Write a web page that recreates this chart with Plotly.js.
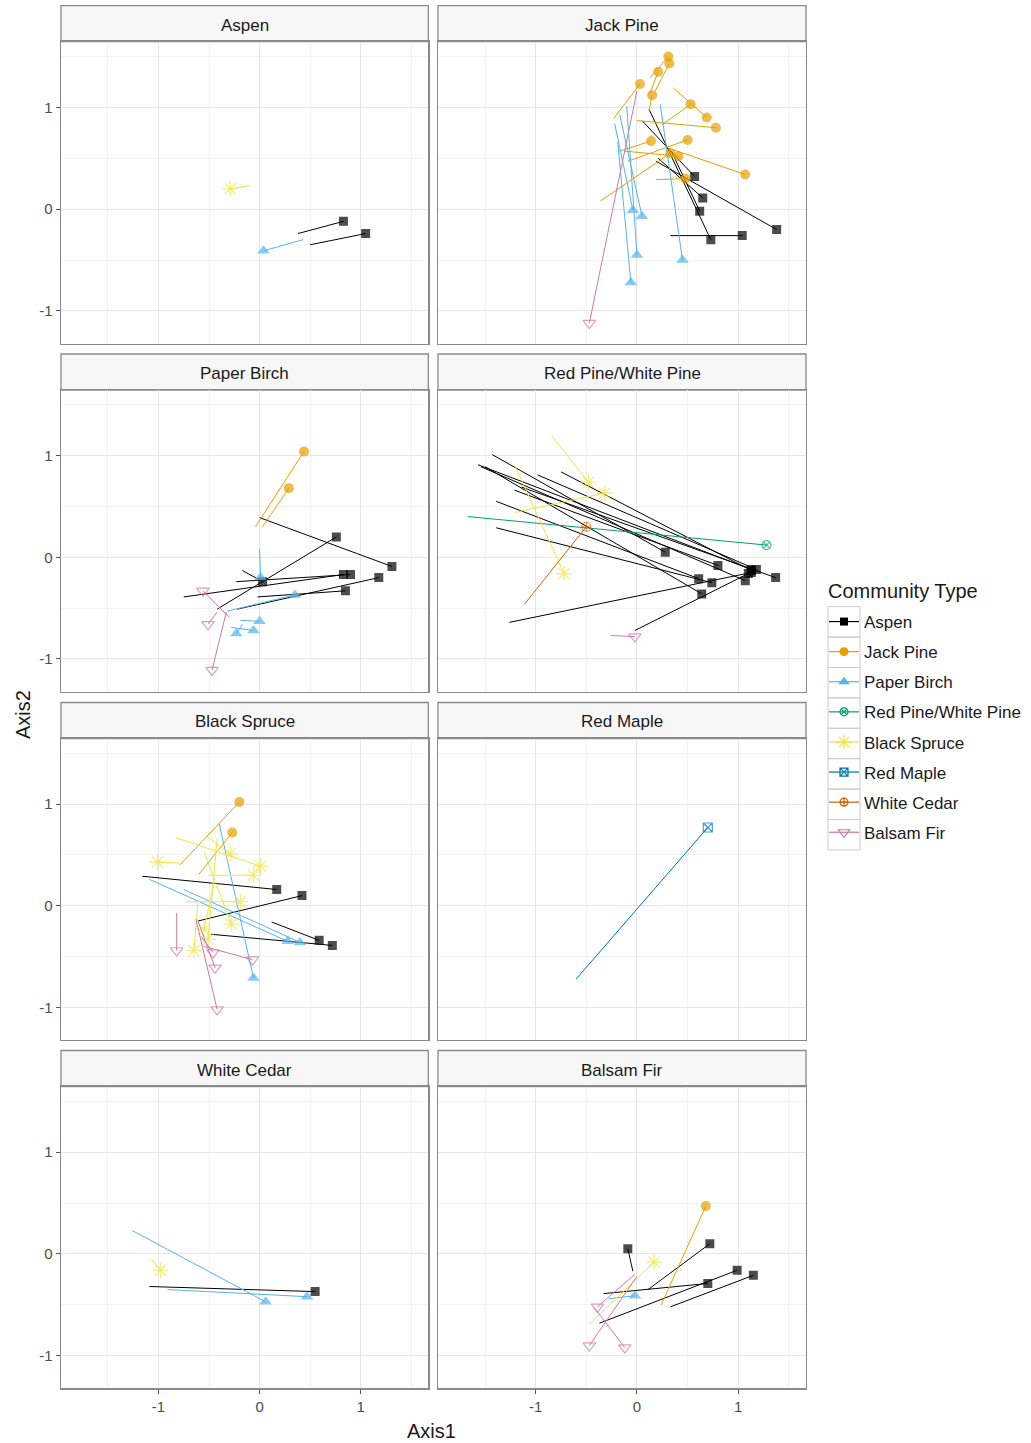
<!DOCTYPE html>
<html>
<head>
<meta charset="utf-8">
<script src="https://cdn.plot.ly/plotly-3.0.1.min.js"></script>
<style>
html,body{margin:0;padding:0;background:#fff;}
#chart{width:1031px;height:1443px;}
</style>
</head>
<body>
<div id="chart"></div>
<script>
// ---------- data ----------
const panelNames = ["Aspen","Jack Pine","Paper Birch","Red Pine/White Pine","Black Spruce","Red Maple","White Cedar","Balsam Fir"];
const typeCodes  = ["A","J","P","R","S","M","C","F"];
const typeNames  = ["Aspen","Jack Pine","Paper Birch","Red Pine/White Pine","Black Spruce","Red Maple","White Cedar","Balsam Fir"];
const tickValues = [-1, 0, 1];
const tickLabels = ["-1", "0", "1"];

// one entry per segment: facet index, community type at the end point, start (x0,y0), end (x1,y1)
const segPanel = [
 0,0,0,0,
 1,1,1,1,1,1,1,1,1,1,1,1,1,1,1,1,1,1,1,1,1,1,1,1,1,1,
 2,2,2,2,2,2,2,2,2,2,2,2,2,2,2,2,2,
 3,3,3,3,3,3,3,3,3,3,3,3,3,3,3,3,3,3,
 4,4,4,4,4,4,4,4,4,4,4,4,4,4,4,4,4,4,4,4,4,4,4,
 5,
 6,6,6,6,
 7,7,7,7,7,7,7,7,7,7,7
];
const segType = [
 "A","A","P","S",
 "J","J","J","J","J","J","J","J","J","J","J","J","J","J","A","A","A","A","A","A","P","P","P","P","P","F",
 "J","J","A","A","A","A","A","A","A","P","P","P","P","P","F","F","F",
 "A","A","A","A","A","A","A","A","A","A","A","A","R","S","S","S","C","F",
 "J","J","S","S","S","S","S","S","S","S","S","A","A","A","A","P","P","P","F","F","F","F","F",
 "M",
 "A","P","P","S",
 "J","A","A","A","A","A","S","P","F","F","F"
];
const startX = [
 0.38,0.50,0.43,-0.10,
 0.13,0.18,0.12,-0.23,0.12,0.25,0.36,0.00,-0.17,-0.09,-0.36,-0.12,0.31,0.19,0.05,0.21,0.34,0.19,0.33,0.12,-0.22,-0.17,-0.10,-0.19,0.23,0.00,
 -0.04,0.03,-0.42,0.00,-0.23,-0.75,-0.22,-0.02,-0.17,0.00,-0.32,-0.19,-0.28,-0.17,-0.30,-0.42,-0.33,
 -1.43,-1.57,-1.54,-0.98,-0.75,-1.21,-1.39,-1.39,-1.14,-1.50,-0.02,-1.26,-1.67,-0.84,-1.21,-1.21,-1.11,-0.26,
 -0.79,-0.60,-0.79,-0.53,-0.83,-0.51,-0.73,-0.55,-0.45,-0.42,-0.61,-1.16,-0.61,0.12,-0.48,-1.09,-0.75,-0.40,-0.82,-0.58,-0.61,-0.55,-0.63,
 -0.60,
 -1.09,-0.91,-1.26,-1.07,
 0.24,-0.04,0.11,-0.37,-0.33,0.33,-0.47,-0.28,-0.02,0.00,-0.42
];
const startY = [
 -0.24,-0.35,-0.30,0.23,
 1.29,1.16,1.12,0.89,0.97,0.83,1.19,0.87,0.57,0.47,0.08,0.57,0.60,0.29,0.87,0.50,0.57,0.47,-0.26,0.98,0.84,0.93,1.01,0.66,1.03,1.16,
 0.30,0.30,-0.51,0.39,-0.24,-0.39,-0.51,-0.39,-0.13,0.08,-0.53,-0.62,-0.69,-0.66,-0.59,-0.54,-0.54,
 1.01,0.91,0.89,0.81,0.84,0.66,0.55,0.29,0.69,0.89,-0.72,-0.64,0.40,1.19,0.44,0.91,-0.46,-0.77,
 0.40,0.31,0.42,0.69,0.67,0.30,0.04,0.53,0.23,0.66,0.03,0.29,-0.15,-0.16,-0.28,0.26,0.16,0.81,-0.07,-0.30,-0.15,-0.40,-0.13,
 -0.72,
 -0.32,-0.35,0.23,-0.05,
 -0.50,-0.17,-0.35,-0.68,-0.39,-0.52,-0.69,-0.44,-0.20,-0.22,-0.53
];
const endX = [
 0.83,1.05,0.04,-0.29,
 0.31,0.32,0.21,0.03,0.15,0.53,0.69,0.78,0.14,0.50,0.33,0.41,1.07,0.48,0.57,0.65,0.62,1.38,1.04,0.73,-0.04,0.05,0.00,-0.06,0.45,-0.47,
 0.44,0.29,0.76,1.31,0.90,0.83,1.18,0.85,0.03,0.01,0.35,0.00,-0.06,-0.23,-0.56,-0.51,-0.47,
 0.28,1.13,1.07,1.18,1.13,0.80,0.61,0.74,1.37,0.64,1.10,1.13,1.28,-0.48,-0.32,-0.72,-0.50,-0.02,
 -0.20,-0.27,-1.01,-0.29,0.01,-0.06,-0.19,-0.28,-0.55,-0.51,-0.65,0.17,0.42,0.59,0.72,0.28,0.40,-0.06,-0.82,-0.46,-0.44,-0.07,-0.42,
 0.70,
 0.55,0.47,0.06,-0.98,
 0.68,-0.09,0.72,0.99,0.70,1.15,0.17,-0.02,-0.39,-0.47,-0.12
];
const endY = [
 -0.12,-0.24,-0.41,0.20,
 1.50,1.43,1.35,1.23,1.12,1.03,0.90,0.80,0.67,0.68,0.55,0.52,0.34,0.30,0.32,0.11,-0.02,-0.20,-0.26,-0.30,-0.01,-0.07,-0.45,-0.72,-0.50,-1.12,
 1.04,0.68,0.20,-0.09,-0.17,-0.17,-0.20,-0.33,-0.24,-0.20,-0.37,-0.63,-0.72,-0.75,-0.33,-0.66,-1.11,
 0.05,-0.12,-0.23,-0.12,-0.13,-0.08,-0.21,-0.25,-0.20,-0.36,-0.16,-0.15,0.12,0.74,0.63,-0.16,0.30,-0.78,
 1.02,0.72,0.43,0.51,0.39,0.30,0.04,-0.18,-0.23,-0.33,-0.44,0.16,0.10,-0.34,-0.39,-0.35,-0.36,-0.71,-0.44,-0.46,-0.61,-0.53,-1.02,
 0.77,
 -0.37,-0.42,-0.47,-0.16,
 0.47,0.05,0.10,-0.16,-0.29,-0.21,-0.08,-0.41,-0.52,-0.90,-0.92
];

// ---------- styles ----------
const typeColors  = ["#000000","#E69F00","#56B4E9","#009E73","#F0E442","#0072B2","#D55E00","#CC79A7"];
const typeSymbols = ["square","circle","triangle-up","circle-x-open","asterisk-open","square-x-open","circle-cross-open","triangle-down-open"];
const typeSizes   = [9,10,11,9,13,9,9,11];

const W = 1031, H = 1443;
const colPx = [[61,428.3],[438,806]];
const rowPx = [[41.7,343.5],[390,691.5],[738.5,1040],[1086.5,1388.3]];
const stripH = 36;
const xRange = [-1.965, 1.67];
const yRange = [-1.32, 1.645];
const FONT = "Liberation Sans, Arial, sans-serif";

const layout = {
  width: W, height: H,
  margin: {l:0, r:0, t:0, b:0},
  paper_bgcolor: "#ffffff",
  plot_bgcolor: "#ffffff",
  font: {family: FONT, color: "#4d4d4d"},
  showlegend: true,
  legend: {
    x: 824/W, xanchor: "left",
    y: 1 - 604/H, yanchor: "top",
    bgcolor: "rgba(0,0,0,0)",
    traceorder: "grouped",
    tracegroupgap: 5,
    font: {family: FONT, size: 17, color: "#1a1a1a"}
  },
  shapes: [],
  annotations: []
};

panelNames.forEach((name, i) => {
  const r = Math.floor(i/2), c = i % 2;
  const sfx = i === 0 ? "" : String(i+1);
  const [xl, xr] = colPx[c];
  const [yt, yb] = rowPx[r];
  const isLeft = c === 0, isBottom = r === 3;
  layout["xaxis"+sfx] = {
    domain: [xl/W, xr/W], range: xRange, anchor: "y"+sfx,
    tickmode: "array", tickvals: tickValues, ticktext: tickLabels,
    showticklabels: isBottom, ticks: isBottom ? "outside" : "", ticklen: 4, tickcolor: "#555",
    tickfont: {family: FONT, size: 15, color: "#4d4d4d"},
    showgrid: true, gridcolor: "#e6e6e6", gridwidth: 1,
    minor: {tickvals: [-1.5,-0.5,0.5,1.5], showgrid: true, gridcolor: "#f3f3f3", gridwidth: 1},
    zeroline: false, showline: true, mirror: true, linecolor: "#8a8a8a", linewidth: 1.3
  };
  layout["yaxis"+sfx] = {
    domain: [1 - yb/H, 1 - yt/H], range: yRange, anchor: "x"+sfx,
    tickmode: "array", tickvals: tickValues, ticktext: tickLabels,
    showticklabels: isLeft, ticks: isLeft ? "outside" : "", ticklen: 4, tickcolor: "#555",
    tickfont: {family: FONT, size: 15, color: "#4d4d4d"},
    showgrid: true, gridcolor: "#e6e6e6", gridwidth: 1,
    minor: {tickvals: [-0.5,0.5,1.5], showgrid: true, gridcolor: "#f3f3f3", gridwidth: 1},
    zeroline: false, showline: true, mirror: true, linecolor: "#8a8a8a", linewidth: 1.3
  };
  // facet strip
  layout.shapes.push({
    type: "rect", xref: "paper", yref: "paper",
    x0: xl/W, x1: xr/W, y0: 1 - yt/H, y1: 1 - (yt - stripH)/H,
    fillcolor: "#f7f7f7", line: {color: "#8a8a8a", width: 1.3}, layer: "below"
  });
  layout.annotations.push({
    xref: "paper", yref: "paper", x: (xl+xr)/2/W, y: 1 - (yt - stripH/2 + 1.5)/H,
    text: name, showarrow: false, xanchor: "center", yanchor: "middle",
    font: {family: FONT, size: 17, color: "#1a1a1a"}
  });
});

// axis titles and legend title
layout.annotations.push({
  xref: "paper", yref: "paper", x: 431/W, y: 1 - 1431/H, text: "Axis1", showarrow: false,
  xanchor: "center", yanchor: "middle", font: {family: FONT, size: 20, color: "#1a1a1a"}
});
layout.annotations.push({
  xref: "paper", yref: "paper", x: 23/W, y: 1 - 715/H, text: "Axis2", showarrow: false, textangle: -90,
  xanchor: "center", yanchor: "middle", font: {family: FONT, size: 20, color: "#1a1a1a"}
});
layout.annotations.push({
  xref: "paper", yref: "paper", x: 826/W, y: 1 - 591/H, text: "Community Type", showarrow: false,
  xanchor: "left", yanchor: "middle", font: {family: FONT, size: 20, color: "#1a1a1a"}
});

// legend key boxes
for (let k = 0; k < typeNames.length; k++) {
  layout.shapes.push({
    type: "rect", xref: "paper", yref: "paper",
    x0: 828/W, x1: 860/W, y0: 1 - (606.7 + (k+1)*30.4)/H, y1: 1 - (606.7 + k*30.4)/H,
    fillcolor: "rgba(0,0,0,0)", line: {color: "#cccccc", width: 1}, layer: "below"
  });
}

// ---------- traces ----------
const traces = [];
typeCodes.forEach((code, t) => {
  const open = typeSymbols[t].endsWith("open");
  const markerStyle = (size) => ({symbol: typeSymbols[t], size: size, color: typeColors[t],
               line: {color: typeColors[t], width: open ? 1.2 : 0}});
  panelNames.forEach((name, p) => {
    const xs = [], ys = [], sz = [];
    for (let s = 0; s < segType.length; s++) {
      if (segType[s] !== code || segPanel[s] !== p) continue;
      xs.push(startX[s], endX[s], null);
      ys.push(startY[s], endY[s], null);
      sz.push(0, typeSizes[t], 0);
    }
    if (!xs.length) return;
    const sfx = p === 0 ? "" : String(p+1);
    traces.push({
      type: "scatter", mode: "lines+markers",
      x: xs, y: ys, xaxis: "x"+sfx, yaxis: "y"+sfx,
      name: typeNames[t], legendgroup: typeNames[t], showlegend: false,
      connectgaps: false,
      line: {color: typeColors[t], width: 1},
      marker: markerStyle(sz),
      hoverinfo: "skip"
    });
  });
  // legend entry (no data points of its own)
  traces.push({
    type: "scatter", mode: "lines+markers", x: [null], y: [null],
    name: typeNames[t], legendgroup: typeNames[t], showlegend: true,
    line: {color: typeColors[t], width: 1.2},
    marker: markerStyle(typeSizes[t] - 1),
    hoverinfo: "skip"
  });
});

Plotly.newPlot("chart", traces, layout, {staticPlot: true});
</script>
</body>
</html>
